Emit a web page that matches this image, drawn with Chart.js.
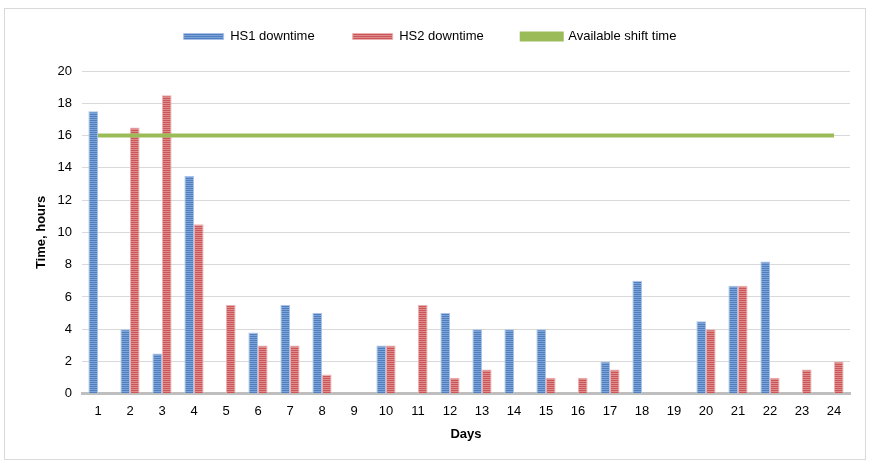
<!DOCTYPE html>
<html>
<head>
  <title>Downtime per day</title>
  <script src="https://cdn.jsdelivr.net/npm/chart.js@4/dist/chart.umd.min.js"></script>
  <style>
    body { margin: 0; background: #fff; }
  </style>
</head>
<body>
  <canvas id="down" width="869" height="464"></canvas>

  <script>
    var days = ['1','2','3','4','5','6','7','8','9','10','11','12','13','14','15','16','17','18','19','20','21','22','23','24'];
    var hs1 = [17.5, 4, 2.5, 13.5, 0, 3.8, 5.5, 5, 0, 3, 0, 5, 4, 4, 4, 0, 2, 7, 0, 4.5, 6.7, 8.2, 0, 0];
    var hs2 = [0, 16.5, 18.5, 10.5, 5.5, 3, 3, 1.2, 0, 3, 5.5, 1, 1.5, 0, 1, 1, 1.5, 0, 0, 4, 6.7, 1, 1.5, 2];
    var shiftTime = [16, 16, 16, 16, 16, 16, 16, 16, 16, 16, 16, 16, 16, 16, 16, 16, 16, 16, 16, 16, 16, 16, 16, 16];

    // striped fill like the office chart bars
    function stripes(dark, light) {
      var c = document.createElement('canvas');
      c.width = 4;
      c.height = 2;
      var g = c.getContext('2d');
      g.fillStyle = light;
      g.fillRect(0, 0, 4, 2);
      g.fillStyle = dark;
      g.fillRect(0, 0, 4, 1);
      return g.createPattern(c, 'repeat');
    }

    var frame = {
      id: 'frame',
      beforeInit: function(chart) {
        // more room under the legend
        var fit = chart.legend.fit;
        chart.legend.fit = function() {
          fit.call(this);
          this.height = 79;
        };
      },
      beforeDraw: function(chart) {
        var ctx = chart.ctx;
        ctx.save();
        ctx.strokeStyle = '#d9d9d9';
        ctx.lineWidth = 1;
        ctx.strokeRect(4.5, 8.5, 861, 451);
        ctx.restore();
      }
    };

    Chart.defaults.font.family = '"Liberation Sans", Arial, sans-serif';
    Chart.defaults.font.size = 13;
    Chart.defaults.color = '#000';

    var ctx = document.getElementById('down').getContext('2d');
    new Chart(ctx, {
      type: 'bar',
      data: {
        labels: days,
        datasets: [
          {
            label: 'HS1 downtime',
            data: hs1,
            backgroundColor: stripes('#4f7fc0', '#7ea3d6'),
            borderColor: '#a9c1e6',
            borderWidth: 1,
            order: 1
          },
          {
            label: 'HS2 downtime',
            data: hs2,
            backgroundColor: stripes('#c9575a', '#e08c8c'),
            borderColor: '#ecb0b0',
            borderWidth: 1,
            order: 1
          },
          {
            type: 'line',
            label: 'Available shift time',
            data: shiftTime,
            borderColor: '#9bbb59',
            backgroundColor: '#9bbb59',
            borderWidth: 4,
            pointRadius: 0,
            order: 0
          }
        ]
      },
      options: {
        responsive: false,
        animation: false,
        categoryPercentage: 0.6,
        barPercentage: 1,
        layout: { padding: { left: 10, right: 19, top: -8, bottom: 18 } },
        plugins: {
          legend: {
            position: 'top',
            labels: {
              boxWidth: 40,
              boxHeight: 6,
              padding: 38,
              font: { size: 13 },
              sort: function(a, b) { return a.datasetIndex - b.datasetIndex; }
            }
          },
          tooltip: { enabled: false }
        },
        scales: {
          x: {
            grid: { display: false },
            border: { color: '#bfbfbf', width: 3 },
            ticks: { padding: 2, maxRotation: 0, autoSkip: false },
            title: { display: true, text: 'Days', font: { size: 13, weight: 'bold' }, padding: { top: 5 } }
          },
          y: {
            min: 0,
            max: 20,
            afterFit: function(scale) { scale.width = 72; },
            ticks: { stepSize: 2, padding: 10 },
            grid: { color: '#d9d9d9', drawTicks: false },
            border: { display: false },
            title: { display: true, text: 'Time, hours', font: { size: 13, weight: 'bold' }, padding: { top: 24 } }
          }
        }
      },
      plugins: [frame]
    });
  </script>
</body>
</html>
